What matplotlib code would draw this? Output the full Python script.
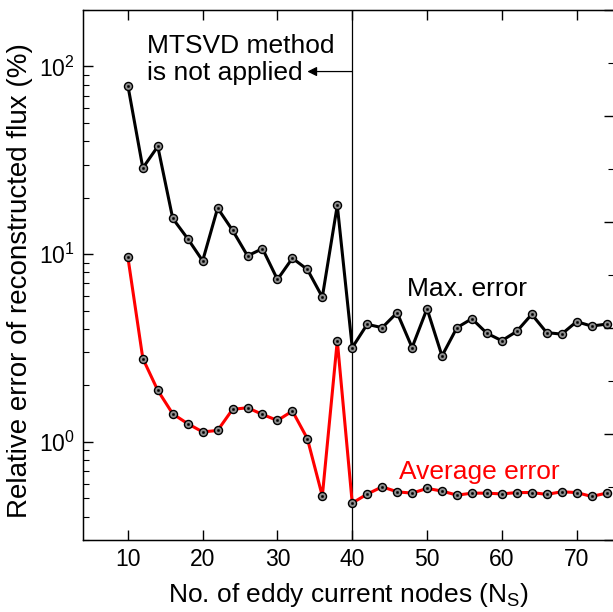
import numpy as np
import matplotlib
matplotlib.use('Agg')
import matplotlib.pyplot as plt
from matplotlib.ticker import LogLocator, MultipleLocator, NullFormatter

plt.rcParams['font.family'] = ['Liberation Sans', 'DejaVu Sans']
plt.rcParams['mathtext.fontset'] = 'custom'
plt.rcParams['mathtext.rm'] = 'Liberation Sans'
plt.rcParams['mathtext.it'] = 'Liberation Sans'
plt.rcParams['mathtext.default'] = 'regular'

# number of eddy current nodes
nodes = np.arange(10, 76, 2)

# max. error (%)
max_err = [79.2, 28.8, 37.5, 15.5, 12.1, 9.22, 17.6, 13.4, 9.8, 10.7, 7.33,
           9.52, 8.29, 5.91, 18.2, 3.18, 4.23, 4.06, 4.88, 3.18, 5.12, 2.87,
           4.06, 4.53, 3.79, 3.46, 3.88, 4.78, 3.82, 3.75, 4.37, 4.14, 4.24]

# average error (%)
avg_err = [9.64, 2.78, 1.88, 1.41, 1.25, 1.13, 1.15, 1.49, 1.52, 1.40, 1.30,
           1.46, 1.04, 0.514, 3.46, 0.472, 0.527, 0.576, 0.542, 0.533, 0.565,
           0.547, 0.520, 0.533, 0.533, 0.528, 0.537, 0.537, 0.525, 0.542,
           0.537, 0.512, 0.533]

fig = plt.figure(figsize=(6.13, 6.12), dpi=100)
ax = fig.add_axes([83 / 613, 72 / 612, 531 / 613, 530 / 612])

ax.axvline(40, color='black', lw=0.9, zorder=1)

for vals, col in [(max_err, 'black'), (avg_err, 'red')]:
    ax.plot(nodes, vals, color=col, lw=2.2, zorder=2)
    ax.plot(nodes, vals, ls='none', marker='o', ms=5.8, mfc='#909090',
            mec='black', mew=1.0, zorder=3)
    ax.plot(nodes, vals, ls='none', marker='o', ms=1.7, mfc='black',
            mec='black', mew=0.3, zorder=4)

ax.set_yscale('log')
ax.set_xlim(4, 75)
ax.set_ylim(0.3, 200)
ax.xaxis.set_major_locator(MultipleLocator(10))
ax.yaxis.set_major_locator(LogLocator(base=10))
ax.yaxis.set_minor_locator(LogLocator(base=10, subs=np.arange(2, 10)))
ax.yaxis.set_minor_formatter(NullFormatter())

ax.tick_params(which='major', direction='in', length=7, width=1, labelsize=16.5,
               top=True, right=False, pad=6)
ax.tick_params(which='minor', direction='in', length=4, width=0.8, right=False)
for s in ax.spines.values():
    s.set_linewidth(1.0)

# secondary (linear) right axis, labels fall outside the picture
ax2 = ax.twinx()
ax2.set_ylim(0, 10)
ax2.yaxis.set_major_locator(MultipleLocator(2))
ax2.yaxis.set_minor_locator(MultipleLocator(1))
ax2.tick_params(which='major', direction='in', length=7, width=1, labelright=False)
ax2.tick_params(which='minor', direction='in', length=4, width=0.8)

ax.set_xlabel('No. of eddy current nodes (N$_S$)', fontsize=19, labelpad=7)
ax.set_ylabel('Relative error of reconstructed flux (%)', fontsize=20)
ax.yaxis.set_label_coords(-0.094, 0.489)

ax.annotate('', xy=(34.0, 94), xytext=(40, 94),
            arrowprops=dict(arrowstyle='-|>', color='black', lw=0.9,
                            mutation_scale=14, shrinkA=0, shrinkB=0))
ax.text(12.5, 118, 'MTSVD method', fontsize=19, ha='left', va='baseline')
ax.text(12.5, 85, 'is not applied', fontsize=19, ha='left', va='baseline')
ax.text(47.3, 5.98, 'Max. error', fontsize=19, ha='left', va='baseline')
ax.text(46.3, 0.633, 'Average error', fontsize=19, ha='left', va='baseline',
        color='red')

fig.savefig('out.png', dpi=100)
